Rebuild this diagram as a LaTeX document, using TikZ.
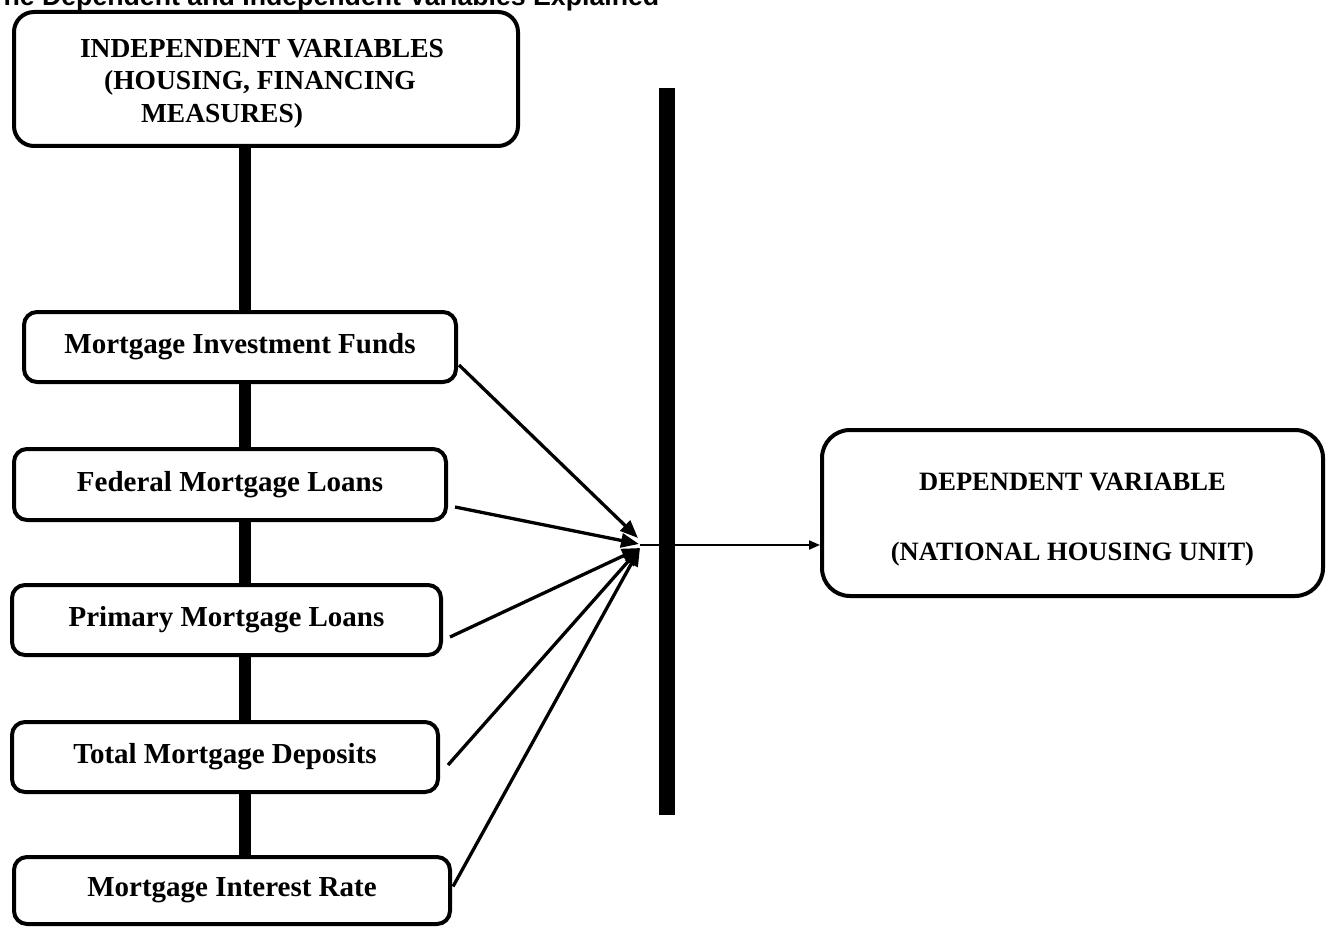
\documentclass[tikz,border=0pt]{standalone}
\usepackage{fontspec}
\setmainfont{Liberation Serif}
\newfontfamily\titlefont{Liberation Sans}
\usetikzlibrary{arrows.meta,calc}
\tikzset{
  varbox/.style={draw, line width=4pt, rounded corners=13pt, fill=white, inner sep=0pt,
    font=\bfseries\fontsize{29}{34}\selectfont},
  spineline/.style={line width=12pt},
  link/.style={line width=3.3pt, -{Triangle[length=18pt,width=14pt]}},
  outlink/.style={line width=2pt, -{Triangle[length=11pt,width=9pt]}},
}
\begin{document}
\begin{tikzpicture}[x=1pt,y=-1pt]
\useasboundingbox (0,0) rectangle (1329,928);
\clip (0,0) rectangle (1329,928);
% title (cut off at top, as in the reference)
\node[anchor=base west, inner sep=0pt, font=\titlefont\bfseries\fontsize{26.7}{32}\selectfont] (title) at (-13,6) {The Dependent and Independent Variables Explained};
% boxes
\node[varbox, rounded corners=20pt, minimum width=504pt, minimum height=134pt, align=center,
  font=\bfseries\fontsize{27.5}{32.5}\selectfont] (indep) at (266,79)
  {\rule{0pt}{27pt}\hspace*{-8pt}INDEPENDENT VARIABLES\\\hspace*{-12pt}(HOUSING, FINANCING\\\hspace*{-88pt}MEASURES)};
\node[varbox, minimum width=432pt, minimum height=70pt] (b1) at (240,347) {Mortgage Investment Funds};
\node[varbox, minimum width=432pt, minimum height=71pt] (b2) at (230,484.5) {Federal Mortgage Loans};
\node[varbox, minimum width=429pt, minimum height=70pt] (b3) at (226.5,620) {Primary Mortgage Loans};
\node[varbox, minimum width=426pt, minimum height=70pt] (b4) at (225,757) {Total Mortgage Deposits};
\node[varbox, minimum width=436pt, minimum height=67pt] (b5) at (232,890.5) {Mortgage Interest Rate};
\node[varbox, rounded corners=28pt, minimum width=501pt, minimum height=166pt, align=center,
  font=\bfseries\fontsize{26.5}{70}\selectfont] (dep) at (1072.5,513)
  {\rule{0pt}{30pt}DEPENDENT VARIABLE\\(NATIONAL HOUSING UNIT)};
% spine
\coordinate (sp) at (244.5,0);
\draw[spineline] (indep.south -| sp) -- (b1.north -| sp);
\draw[spineline] (b1.south -| sp) -- (b2.north -| sp);
\draw[spineline] (b2.south -| sp) -- (b3.north -| sp);
\draw[spineline] (b3.south -| sp) -- (b4.north -| sp);
\draw[spineline] (b4.south -| sp) -- (b5.north -| sp);
% vertical bar
\node[fill=black, draw=none, minimum width=16pt, minimum height=727pt, inner sep=0pt] (bar) at (667,451.5) {};
% hub
\coordinate (hub) at (640,545);
\coordinate (hubA) at (638,538);
\coordinate (hubB) at (639,544);
\coordinate (hubC) at (640,548);
\draw[link] ($(b1.east)+(1,18)$) -- (hubA);
\draw[link] ($(b2.east)+(7,22.5)$) -- (hubB);
\draw[link] ($(b3.east)+(7,17)$) -- (hubC);
\draw[link] ($(b4.east)+(8,8)$) -- (hubC);
\draw[link] ($(b5.east)+(1,-4)$) -- (hubC);
\draw[outlink] (hub) -- (hub -| dep.west);
\end{tikzpicture}
\end{document}
